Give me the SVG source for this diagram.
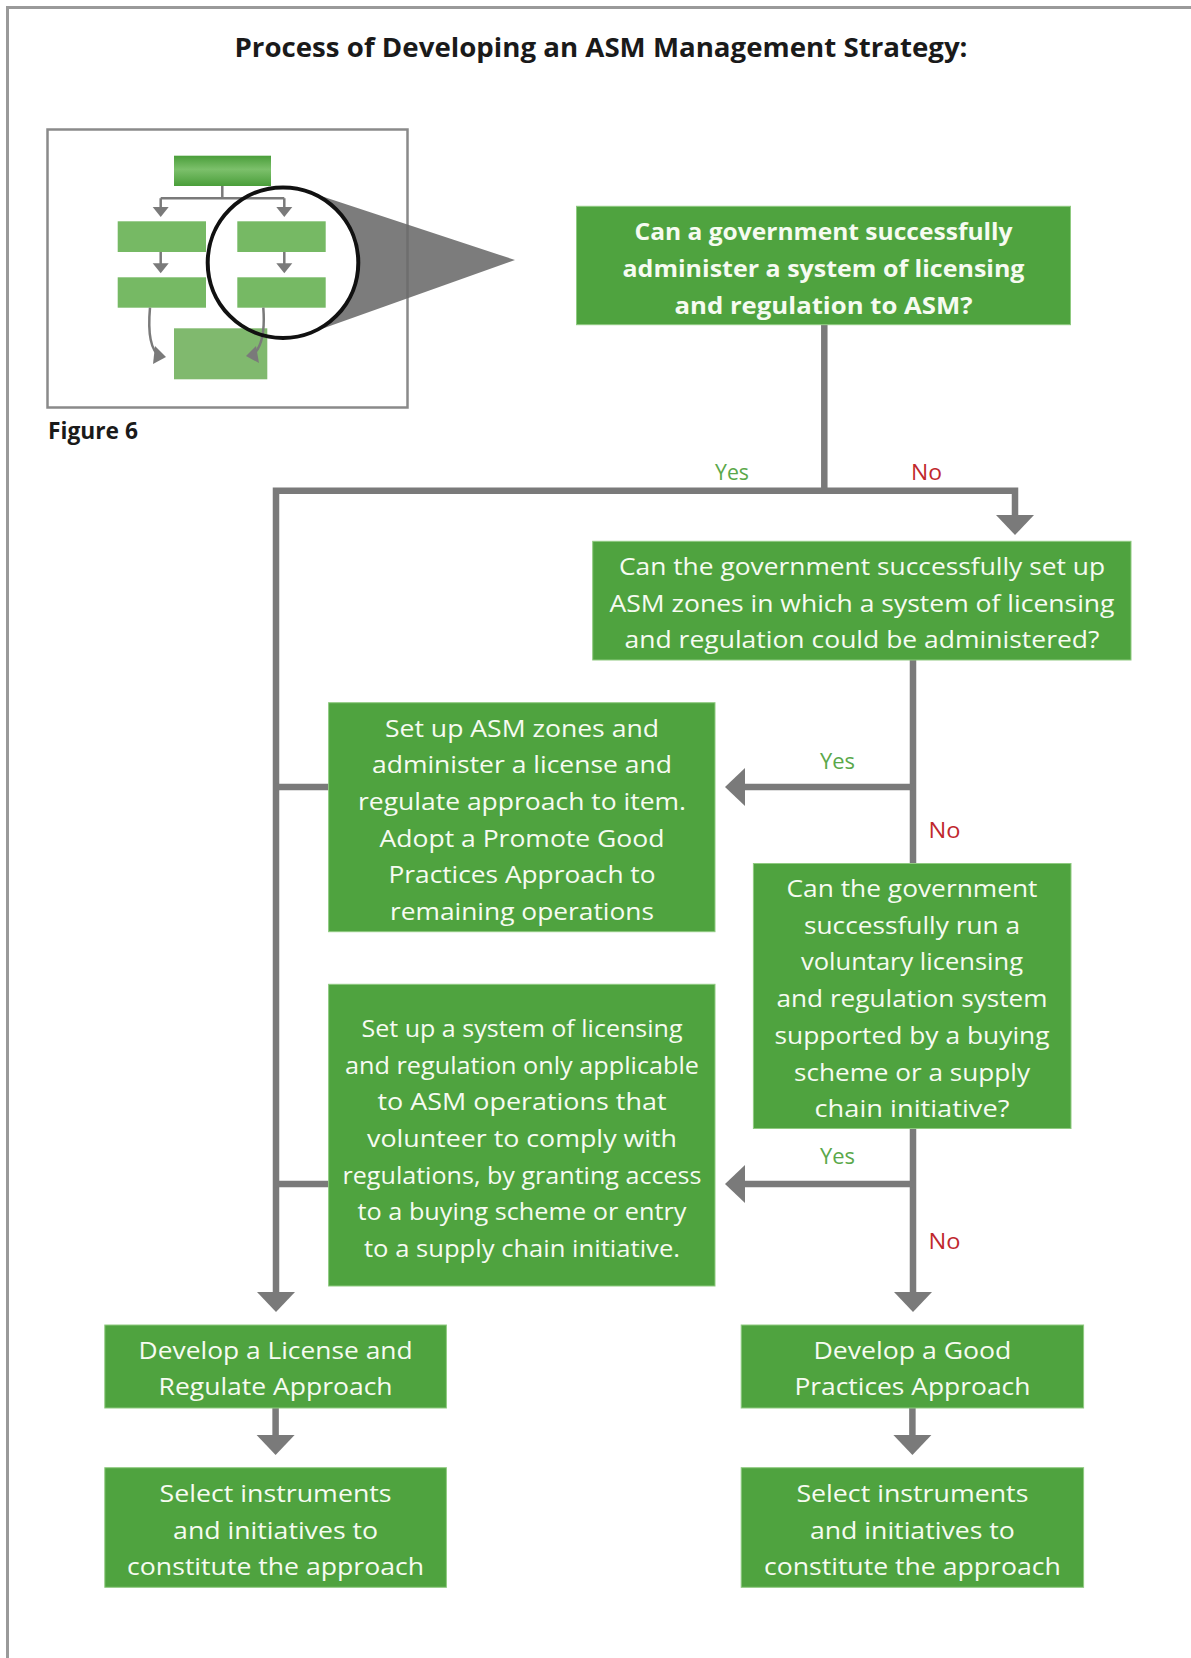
<svg xmlns="http://www.w3.org/2000/svg" xmlns:xlink="http://www.w3.org/1999/xlink" width="1191" height="1658" viewBox="0 0 1191 1658">
<style>
.box{fill:#4fa33f;stroke:#8fca80;stroke-width:1}
.t{font-family:"Open Sans","Liberation Sans",sans-serif;font-size:24px;fill:#f6fbf1;text-anchor:middle}
.tb{font-weight:bold}
.con{fill:none;stroke:#7a7a7a;stroke-width:6.5}
.ah{fill:#7a7a7a}
.yes{font-family:"Open Sans","Liberation Sans",sans-serif;font-size:22px;fill:#5aa84a}
.no{font-family:"Open Sans","Liberation Sans",sans-serif;font-size:22px;fill:#c0282d}
.thin{fill:none;stroke:#7a7a7a;stroke-width:2.5}
</style>
<defs>
<path id="arr" d="M-19,-20 L19,-20 L0,0 Z"/>
<path id="sarr" d="M-8,-10 L8,-10 L0,0 Z"/>
<linearGradient id="gl" x1="0" y1="0" x2="0" y2="1">
<stop offset="0" stop-color="#4a9e3a"/>
<stop offset="0.45" stop-color="#7cc06b"/>
<stop offset="1" stop-color="#4a9e3a"/>
</linearGradient>
</defs>
<rect width="1191" height="1658" fill="#ffffff"/>
<!-- page frame -->
<path d="M7.5,1658 L7.5,7.5 L1191,7.5" fill="none" stroke="#9a9a9a" stroke-width="3"/>
<text x="601" y="57" font-family="'Open Sans','Liberation Sans',sans-serif" font-size="27" font-weight="bold" fill="#1a1a1a" text-anchor="middle" textLength="733" lengthAdjust="spacingAndGlyphs">Process of Developing an ASM Management Strategy:</text>

<!-- thumbnail figure -->
<g id="thumbnail">
<rect x="47.5" y="129.5" width="360" height="278" fill="#ffffff" stroke="#8a8a8a" stroke-width="2.5"/>
<rect x="174" y="155.7" width="97" height="30.3" fill="url(#gl)"/>
<rect x="117.7" y="221.3" width="88.3" height="30.7" fill="#76b964"/>
<rect x="237.3" y="221.3" width="88.4" height="30.7" fill="#76b964"/>
<rect x="117.7" y="277.3" width="88.3" height="30.4" fill="#76b964"/>
<rect x="237.3" y="277.3" width="88.4" height="30.4" fill="#76b964"/>
<rect x="174" y="328.3" width="93.3" height="51" fill="#80b96e"/>
<path class="thin" d="M222.3,186 V198.3 M160.7,198.3 H284.3 M160.7,198.3 V208 M284.3,198.3 V208 M160.7,252 V264 M284.3,252 V264"/>
<use class="ah" xlink:href="#sarr" x="160.7" y="217"/>
<use class="ah" xlink:href="#sarr" x="284.3" y="217"/>
<use class="ah" xlink:href="#sarr" x="160.7" y="273.3"/>
<use class="ah" xlink:href="#sarr" x="284.3" y="273.3"/>
<path class="thin" d="M150,307.7 C148,330 150,350 160,356.5"/>
<path class="thin" d="M263.3,307.7 C265,330 262,348 252,355.5"/>
<path d="M166,357 L155,346 L153,364 Z" fill="#7a7a7a"/>
<path d="M246,356 L256,346 L259,363 Z" fill="#7a7a7a"/>
<path d="M307.4,191.5 L515,260 L307.4,333.9 A75.3,75.3 0 0 0 307.4,191.5 Z" fill="#6a6a6a" opacity="0.88"/>
<circle cx="283" cy="262.7" r="75.3" fill="none" stroke="#111111" stroke-width="4"/>
<text x="48" y="438.5" font-family="'Open Sans','Liberation Sans',sans-serif" font-size="24" font-weight="bold" fill="#1a1a1a" textLength="90" lengthAdjust="spacingAndGlyphs">Figure 6</text>
</g>

<!-- connectors -->
<g id="connectors">
<path class="con" d="M824.3,324.7 V490.7"/>
<path class="con" d="M276,1293 V490.7 H1015 V515"/>
<path class="con" d="M913,660 V863.3"/>
<path class="con" d="M913,787 H745"/>
<path class="con" d="M913,1128.5 V1293"/>
<path class="con" d="M913,1184 H745"/>
<path class="con" d="M276,787 H329"/>
<path class="con" d="M276,1184 H329"/>
<path class="con" d="M275.6,1408 V1436"/>
<path class="con" d="M912.4,1408 V1436"/>
<use class="ah" xlink:href="#arr" transform="translate(1015,535)"/>
<use class="ah" xlink:href="#arr" transform="translate(725,787) rotate(90)"/>
<use class="ah" xlink:href="#arr" transform="translate(725,1184) rotate(90)"/>
<use class="ah" xlink:href="#arr" transform="translate(276,1312)"/>
<use class="ah" xlink:href="#arr" transform="translate(913,1312)"/>
<use class="ah" xlink:href="#arr" transform="translate(275.6,1455)"/>
<use class="ah" xlink:href="#arr" transform="translate(912.4,1455)"/>
<text class="yes" x="715" y="480" textLength="34" lengthAdjust="spacingAndGlyphs">Yes</text>
<text class="no" x="911" y="480" textLength="31" lengthAdjust="spacingAndGlyphs">No</text>
<text class="yes" x="820" y="769" textLength="35" lengthAdjust="spacingAndGlyphs">Yes</text>
<text class="no" x="928.5" y="838" textLength="32" lengthAdjust="spacingAndGlyphs">No</text>
<text class="yes" x="820" y="1164" textLength="35" lengthAdjust="spacingAndGlyphs">Yes</text>
<text class="no" x="928.5" y="1249" textLength="32" lengthAdjust="spacingAndGlyphs">No</text>
</g>

<g id="q1">
<rect class="box" x="576.5" y="206.3" width="494" height="118.4"/>
<text class="t tb" x="823.5" y="240" textLength="378" lengthAdjust="spacingAndGlyphs">Can a government successfully</text>
<text class="t tb" x="823.5" y="277" textLength="402" lengthAdjust="spacingAndGlyphs">administer a system of licensing</text>
<text class="t tb" x="823.5" y="314" textLength="298" lengthAdjust="spacingAndGlyphs">and regulation to ASM?</text>
</g>

<g id="q2">
<rect class="box" x="592.7" y="541.3" width="538.3" height="118.7"/>
<text class="t" x="862" y="575" textLength="486" lengthAdjust="spacingAndGlyphs">Can the government successfully set up</text>
<text class="t" x="862" y="611.5" textLength="505" lengthAdjust="spacingAndGlyphs">ASM zones in which a system of licensing</text>
<text class="t" x="862" y="648" textLength="475" lengthAdjust="spacingAndGlyphs">and regulation could be administered?</text>
</g>

<g id="zones">
<rect class="box" x="328.6" y="702.7" width="386.4" height="229"/>
<text class="t" x="522" y="736.5" textLength="274" lengthAdjust="spacingAndGlyphs">Set up ASM zones and</text>
<text class="t" x="522" y="773" textLength="300" lengthAdjust="spacingAndGlyphs">administer a license and</text>
<text class="t" x="522" y="810" textLength="328" lengthAdjust="spacingAndGlyphs">regulate approach to item.</text>
<text class="t" x="522" y="846.5" textLength="285" lengthAdjust="spacingAndGlyphs">Adopt a Promote Good</text>
<text class="t" x="522" y="883" textLength="267" lengthAdjust="spacingAndGlyphs">Practices Approach to</text>
<text class="t" x="522" y="920" textLength="264" lengthAdjust="spacingAndGlyphs">remaining operations</text>
</g>

<g id="q3">
<rect class="box" x="753.4" y="863.5" width="317.6" height="265"/>
<text class="t" x="912" y="897" textLength="251" lengthAdjust="spacingAndGlyphs">Can the government</text>
<text class="t" x="912" y="934" textLength="216" lengthAdjust="spacingAndGlyphs">successfully run a</text>
<text class="t" x="912" y="970" textLength="222" lengthAdjust="spacingAndGlyphs">voluntary licensing</text>
<text class="t" x="912" y="1007" textLength="271" lengthAdjust="spacingAndGlyphs">and regulation system</text>
<text class="t" x="912" y="1044" textLength="275" lengthAdjust="spacingAndGlyphs">supported by a buying</text>
<text class="t" x="912" y="1081" textLength="236" lengthAdjust="spacingAndGlyphs">scheme or a supply</text>
<text class="t" x="912" y="1117" textLength="195" lengthAdjust="spacingAndGlyphs">chain initiative?</text>
</g>

<g id="voluntary">
<rect class="box" x="328.6" y="984.3" width="386.4" height="301.7"/>
<text class="t" x="522" y="1037" textLength="321" lengthAdjust="spacingAndGlyphs">Set up a system of licensing</text>
<text class="t" x="522" y="1073.5" textLength="354" lengthAdjust="spacingAndGlyphs">and regulation only applicable</text>
<text class="t" x="522" y="1110" textLength="289" lengthAdjust="spacingAndGlyphs">to ASM operations that</text>
<text class="t" x="522" y="1147" textLength="310" lengthAdjust="spacingAndGlyphs">volunteer to comply with</text>
<text class="t" x="522" y="1183.5" textLength="359" lengthAdjust="spacingAndGlyphs">regulations, by granting access</text>
<text class="t" x="522" y="1220" textLength="329" lengthAdjust="spacingAndGlyphs">to a buying scheme or entry</text>
<text class="t" x="522" y="1257" textLength="316" lengthAdjust="spacingAndGlyphs">to a supply chain initiative.</text>
</g>

<g id="license">
<rect class="box" x="104.8" y="1325" width="341.6" height="83"/>
<text class="t" x="275.6" y="1358.5" textLength="274" lengthAdjust="spacingAndGlyphs">Develop a License and</text>
<text class="t" x="275.6" y="1395" textLength="234" lengthAdjust="spacingAndGlyphs">Regulate Approach</text>
</g>

<g id="select-left">
<rect class="box" x="104.8" y="1467.7" width="341.6" height="119.6"/>
<text class="t" x="275.6" y="1502" textLength="232" lengthAdjust="spacingAndGlyphs">Select instruments</text>
<text class="t" x="275.6" y="1538.5" textLength="205" lengthAdjust="spacingAndGlyphs">and initiatives to</text>
<text class="t" x="275.6" y="1575" textLength="297" lengthAdjust="spacingAndGlyphs">constitute the approach</text>
</g>

<g id="good">
<rect class="box" x="741.2" y="1325" width="342.4" height="83"/>
<text class="t" x="912.4" y="1358.5" textLength="198" lengthAdjust="spacingAndGlyphs">Develop a Good</text>
<text class="t" x="912.4" y="1395" textLength="236" lengthAdjust="spacingAndGlyphs">Practices Approach</text>
</g>

<g id="select-right">
<rect class="box" x="741.2" y="1467.7" width="342.4" height="119.6"/>
<text class="t" x="912.4" y="1502" textLength="232" lengthAdjust="spacingAndGlyphs">Select instruments</text>
<text class="t" x="912.4" y="1538.5" textLength="205" lengthAdjust="spacingAndGlyphs">and initiatives to</text>
<text class="t" x="912.4" y="1575" textLength="297" lengthAdjust="spacingAndGlyphs">constitute the approach</text>
</g>
</svg>
